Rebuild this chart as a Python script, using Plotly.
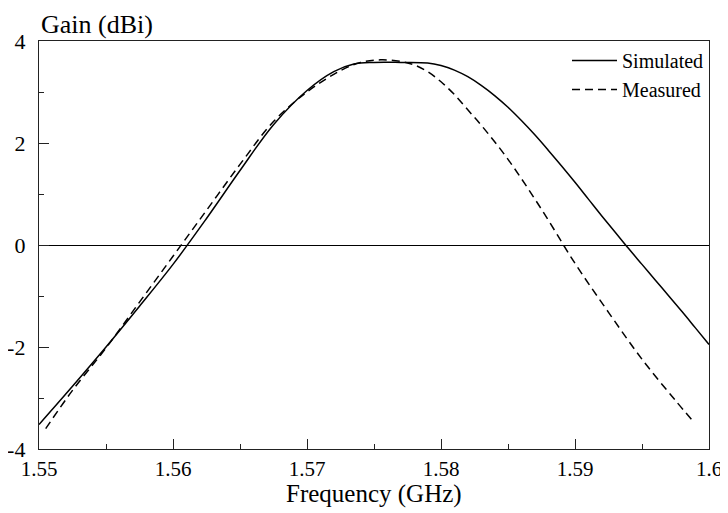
import plotly.graph_objects as go

# Simulated gain
sim_freq = [1.550, 1.5525, 1.555, 1.5575, 1.560, 1.5625, 1.565, 1.5675, 1.570, 1.572,
            1.5735, 1.575, 1.577, 1.579, 1.580, 1.581, 1.582, 1.583, 1.584, 1.585,
            1.586, 1.587, 1.588, 1.589, 1.590, 1.591, 1.592, 1.593, 1.594, 1.595,
            1.596, 1.597, 1.598, 1.599, 1.600]
sim_gain = [-3.52, -2.77, -2.00, -1.20, -0.38, 0.52, 1.46, 2.36, 3.03, 3.40,
            3.55, 3.58, 3.58, 3.57, 3.52, 3.43, 3.30, 3.13, 2.93, 2.70,
            2.44, 2.16, 1.86, 1.55, 1.23, 0.90, 0.57, 0.25, -0.07, -0.38,
            -0.69, -1.00, -1.31, -1.63, -1.95]

# Measured gain
meas_freq = [1.5505, 1.5525, 1.555, 1.5575, 1.560, 1.5625, 1.565, 1.5675, 1.570, 1.5725,
             1.574, 1.5755, 1.577, 1.578, 1.579, 1.580, 1.581, 1.582, 1.583, 1.585,
             1.5875, 1.590, 1.5925, 1.595, 1.5975, 1.5988]
meas_gain = [-3.60, -2.85, -2.02, -1.12, -0.22, 0.68, 1.58, 2.42, 3.00, 3.42,
             3.58, 3.63, 3.60, 3.53, 3.40, 3.20, 2.95, 2.65, 2.35, 1.68,
             0.70, -0.36, -1.32, -2.24, -3.05, -3.45]

x_ticks = [1.55, 1.56, 1.57, 1.58, 1.59, 1.60]
x_tick_text = ["1.55", "1.56", "1.57", "1.58", "1.59", "1.6"]
y_ticks = [-4, -2, 0, 2, 4]
y_tick_text = ["-4", "-2", "0", "2", "4"]

FONT = "Liberation Serif"

fig = go.Figure()
fig.add_trace(go.Scatter(x=sim_freq, y=sim_gain, mode="lines", name="Simulated",
                         line=dict(color="black", width=1.5, shape="spline", smoothing=1)))
fig.add_trace(go.Scatter(x=meas_freq, y=meas_gain, mode="lines", name="Measured",
                         line=dict(color="black", width=1.5, dash="8px,5px",
                                   shape="spline", smoothing=1)))

axis_common = dict(
    showgrid=False, showline=True, linecolor="#222", linewidth=1.3, mirror=True,
    ticks="inside", ticklen=10, tickwidth=1, tickcolor="#222", automargin=False,
)

fig.update_xaxes(
    range=[1.55, 1.60], tickvals=x_ticks, ticktext=x_tick_text,
    zeroline=False, ticklabelstandoff=1,
    tickfont=dict(family=FONT, size=21, color="black"),
    minor=dict(ticks="inside", ticklen=5, tickwidth=1, tickcolor="#222", dtick=0.005, tick0=1.55),
    **axis_common,
)
fig.update_yaxes(
    range=[-4, 4], tickvals=y_ticks, ticktext=y_tick_text,
    zeroline=True, zerolinecolor="black", zerolinewidth=1.2, ticklabelstandoff=8,
    tickfont=dict(family=FONT, size=22, color="black"),
    minor=dict(ticks="inside", ticklen=5, tickwidth=1, tickcolor="#222", dtick=1, tick0=0),
    **axis_common,
)

# axis titles
fig.add_annotation(text="Gain (dBi)", xref="paper", yref="paper", x=0, y=1.04,
                   xanchor="left", yanchor="middle", showarrow=False,
                   font=dict(family=FONT, size=26, color="black"))
fig.add_annotation(text="Frequency (GHz)", xref="paper", yref="paper", x=0.5, y=-0.11,
                   xanchor="center", yanchor="middle", showarrow=False,
                   font=dict(family=FONT, size=25, color="black"))

# The page body adds an 8px offset; the figure is sized/margined so the plot
# area lands at the same place as in the reference window.
fig.update_layout(
    width=720, height=505,
    margin=dict(l=31, r=19, t=33, b=64, autoexpand=False),
    paper_bgcolor="white", plot_bgcolor="white",
    showlegend=True,
    legend=dict(x=1, y=1, xanchor="right", yanchor="top", bgcolor="rgba(0,0,0,0)",
                font=dict(family=FONT, size=20, color="black"), tracegroupgap=0,
                itemwidth=45),
    font=dict(family=FONT, color="black"),
)

fig.write_html("out.html")
